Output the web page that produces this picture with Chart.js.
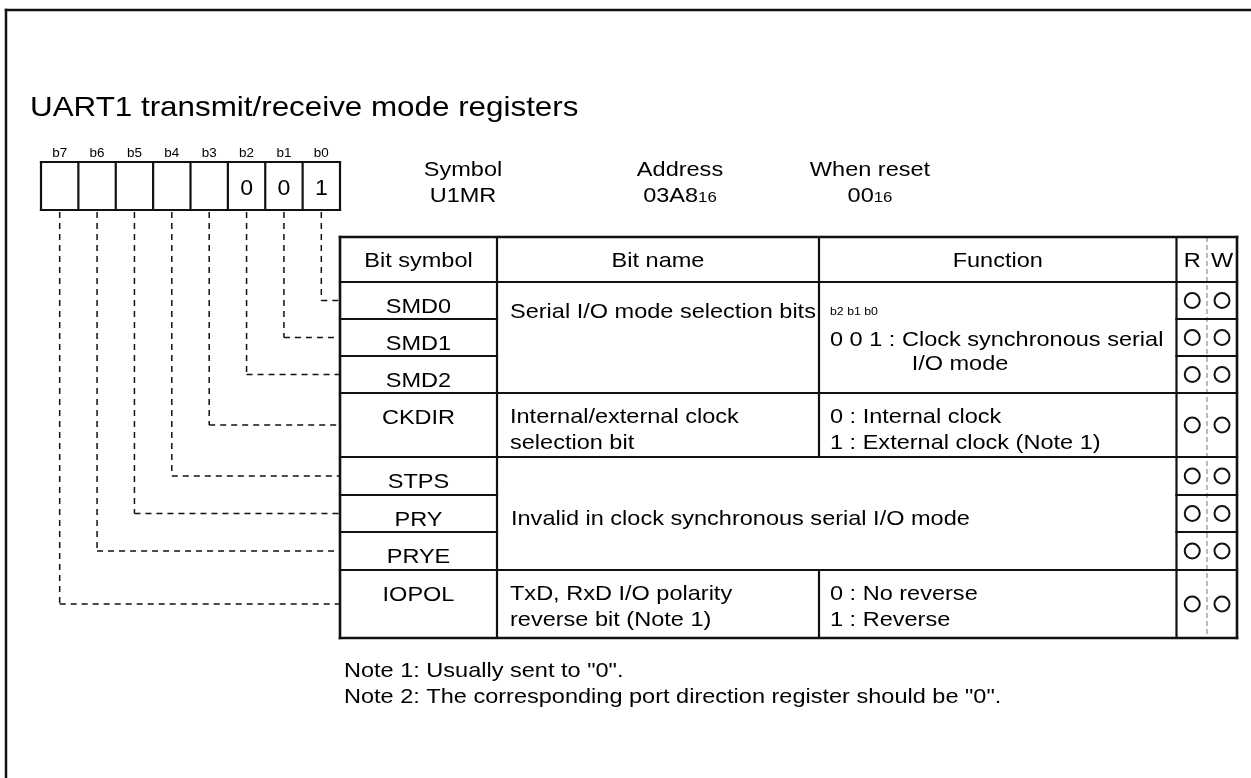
<!DOCTYPE html>
<html>
<head>
<meta charset="utf-8">
<script src="https://cdn.jsdelivr.net/npm/chart.js@4"></script>
<style>
  html, body { margin: 0; padding: 0; background: #fff; }
  canvas { display: block; }
</style>
</head>
<body>
<canvas id="reg" width="1251" height="778"></canvas>
<script>
'use strict';

// --- content ---
const TITLE = 'UART1 transmit/receive mode registers';
const bitLabels = ['b7', 'b6', 'b5', 'b4', 'b3', 'b2', 'b1', 'b0'];
const bitValues = ['', '', '', '', '', '0', '0', '1'];
const infoHeads = ['Symbol', 'Address', 'When reset'];
const infoVals = [['U1MR', ''], ['03A8', '16'], ['00', '16']];
const colHeads = ['Bit symbol', 'Bit name', 'Function'];
const rwHeads = ['R', 'W'];
const bitSymbols = ['SMD0', 'SMD1', 'SMD2', 'CKDIR', 'STPS', 'PRY', 'PRYE', 'IOPOL'];
const bitOfRow = [0, 1, 2, 3, 4, 5, 6, 7];
const groupRows = [[0, 2], [3, 3], [4, 6], [7, 7]];
const nameText = [
  ['Serial I/O mode selection bits'],
  ['Internal/external clock', 'selection bit'],
  ['Invalid in clock synchronous serial I/O mode'],
  ['TxD, RxD I/O polarity', 'reverse bit (Note 1)']
];
const funcText = [
  ['0 0 1 : Clock synchronous serial', 'I/O mode'],
  ['0 : Internal clock', '1 : External clock (Note 1)'],
  null,
  ['0 : No reverse', '1 : Reverse']
];
const funcBits = 'b2 b1 b0';
const readable = [1, 1, 1, 1, 1, 1, 1, 1];
const writable = [1, 1, 1, 1, 1, 1, 1, 1];
const notes = ['Note 1: Usually sent to "0".', 'Note 2: The corresponding port direction register should be "0".'];

// --- layout (page pixels) ---
const W = 1251, H = 778;
const COLS = [340, 497, 819, 1176.5, 1237];
const RW_MID = 1207;
const ROWS = [237, 282, 319, 356, 393, 457, 495, 532, 570, 638];
const BOX = { x0: 41, x1: 340, y0: 162, y1: 210 };
const FONT = '"Liberation Sans", Arial, sans-serif';
const FS = 21;
const SX = 1.12;
const INK = '#111';

const cellW = (BOX.x1 - BOX.x0) / bitLabels.length;
const cellX = k => BOX.x0 + cellW * (k + 0.5);
const rowTop = r => ROWS[r + 1];
const rowBot = r => ROWS[r + 2];
const rowMid = r => (rowTop(r) + rowBot(r)) / 2;

const datasets = [];
function seg(x0, y0, x1, y1, opt) {
  datasets.push(Object.assign({
    type: 'scatter', showLine: true, data: [{ x: x0, y: y0 }, { x: x1, y: y1 }],
    borderColor: INK, borderWidth: 2.2, pointRadius: 0, borderCapStyle: 'square', fill: false
  }, opt || {}));
}

// page frame
seg(6, H + 5, 6, 10, { borderWidth: 2.5 });
seg(6, 10, W + 5, 10, { borderWidth: 2.5 });

// bit box
seg(BOX.x0, BOX.y0, BOX.x1, BOX.y0);
seg(BOX.x0, BOX.y1, BOX.x1, BOX.y1);
for (let k = 0; k <= bitLabels.length; k++) {
  const x = BOX.x0 + cellW * k;
  seg(x, BOX.y0, x, BOX.y1);
}

// table grid
const tL = COLS[0], tR = COLS[4];
seg(tL, ROWS[0], tR, ROWS[0], { borderWidth: 2.6 });
seg(tL, ROWS[1], tR, ROWS[1]);
groupRows.forEach(([a, b], g) => {
  const yb = rowBot(b);
  seg(tL, yb, tR, yb, { borderWidth: g === groupRows.length - 1 ? 2.6 : 2.2 });
  for (let r = a; r < b; r++) {
    seg(COLS[0], rowBot(r), COLS[1], rowBot(r));
    seg(COLS[3], rowBot(r), COLS[4], rowBot(r));
  }
  if (funcText[g]) seg(COLS[2], rowTop(a), COLS[2], rowBot(b));
});
seg(COLS[2], ROWS[0], COLS[2], ROWS[1]);
[0, 1, 3, 4].forEach(c => seg(COLS[c], ROWS[0], COLS[c], ROWS[ROWS.length - 1], { borderWidth: c === 0 || c === 4 ? 2.6 : 2.2 }));
seg(RW_MID, ROWS[0], RW_MID, ROWS[ROWS.length - 1], { borderWidth: 1, borderColor: '#777', borderDash: [5, 3], borderCapStyle: 'butt' });

// dashed leaders from bits to rows
bitSymbols.forEach((s, r) => {
  const k = bitLabels.length - 1 - bitOfRow[r];
  const x = cellX(k), y = rowMid(r);
  seg(x, BOX.y1 + 2, x, y, { borderWidth: 1.5, borderDash: [6, 5], borderCapStyle: 'butt' });
  seg(x, y, COLS[0], y, { borderWidth: 1.5, borderDash: [6, 5], borderCapStyle: 'butt' });
});

// R / W circles
const rwX = [(COLS[3] + RW_MID) / 2 + 0.5, (RW_MID + COLS[4]) / 2];
[readable, writable].forEach((arr, i) => {
  datasets.push({
    type: 'scatter',
    data: bitSymbols.map((s, r) => arr[r] ? { x: rwX[i], y: rowMid(r) } : null).filter(Boolean),
    pointStyle: 'circle', pointRadius: 7.5, borderWidth: 2,
    borderColor: INK, backgroundColor: 'rgba(0,0,0,0)'
  });
});

// text plugin
const textPlugin = {
  id: 'regText',
  afterDatasetsDraw(chart) {
    const { ctx, scales: { x: sx, y: sy } } = chart;
    const px = v => sx.getPixelForValue(v), py = v => sy.getPixelForValue(v);
    function txtPx(s, xp, yc, size, align, stretch) {
      ctx.save();
      ctx.font = size + 'px ' + FONT;
      ctx.fillStyle = '#000';
      ctx.textBaseline = 'alphabetic';
      ctx.textAlign = align || 'left';
      ctx.translate(xp, py(yc) + size * 0.358);
      ctx.scale(stretch || SX, 1);
      ctx.fillText(s, 0, 0);
      ctx.restore();
    }
    const txt = (s, x, yc, size, align, stretch) => txtPx(s, px(x), yc, size, align, stretch);
    function sub(main, low, cx, yc, size) {
      ctx.save();
      ctx.font = size + 'px ' + FONT;
      const w1 = ctx.measureText(main).width * SX;
      ctx.font = (size - 6) + 'px ' + FONT;
      const w2 = low ? ctx.measureText(low).width * SX : 0;
      ctx.restore();
      const x0 = px(cx) - (w1 + w2) / 2;
      txtPx(main, x0, yc, size, 'left');
      if (low) txtPx(low, x0 + w1, yc + (size - (size - 6)) * 0.358, size - 6, 'left');
    }

    txt(TITLE, 30, 106, 28, 'left', 1.12);

    bitLabels.forEach((b, k) => {
      txt(b, cellX(k), 153, 12, 'center');
      if (bitValues[k]) txt(bitValues[k], cellX(k), 187, 22, 'center', 1.05);
    });

    const infoX = [463, 680, 870];
    infoHeads.forEach((h, i) => {
      txt(h, infoX[i], 168, FS, 'center');
      sub(infoVals[i][0], infoVals[i][1], infoX[i], 194, FS);
    });

    const hy = (ROWS[0] + ROWS[1]) / 2;
    colHeads.forEach((h, c) => txt(h, (COLS[c] + COLS[c + 1]) / 2, hy, FS, 'center'));
    rwHeads.forEach((h, i) => txt(h, rwX[i], hy, FS, 'center'));

    bitSymbols.forEach((s, r) => txt(s, (COLS[0] + COLS[1]) / 2, rowTop(r) + 23, FS, 'center'));

    groupRows.forEach(([a, b], g) => {
      const top = rowTop(a);
      const lines = nameText[g];
      if (!funcText[g]) {
        txt(lines[0], 511, (top + rowBot(b)) / 2 + 4, FS, 'left');
      } else if (a !== b) {
        txt(lines[0], 510, top + 28, FS, 'left');
      } else {
        lines.forEach((l, i) => txt(l, 510, top + 22 + i * 26, FS, 'left'));
      }
      const f = funcText[g];
      if (!f) return;
      if (a !== b) {
        txt(funcBits, 830, top + 29, 11, 'left');
        txt(f[0], 830, top + 56, FS, 'left');
        txt(f[1], 960, top + 80, FS, 'center');
      } else {
        f.forEach((l, i) => txt(l, 830, top + 22 + i * 26, FS, 'left'));
      }
    });

    notes.forEach((n, i) => txt(n, 344, 669 + i * 26, FS, 'left'));
  }
};

new Chart(document.getElementById('reg').getContext('2d'), {
  type: 'scatter',
  data: { datasets },
  options: {
    responsive: false,
    animation: false,
    events: [],
    layout: { padding: 0, autoPadding: false },
    plugins: { legend: { display: false }, tooltip: { enabled: false } },
    scales: {
      x: { type: 'linear', min: 0, max: W, display: false },
      y: { type: 'linear', min: 0, max: H, reverse: true, display: false }
    },
    elements: { line: { tension: 0 } },
    clip: false
  },
  plugins: [textPlugin]
});
</script>
</body>
</html>
